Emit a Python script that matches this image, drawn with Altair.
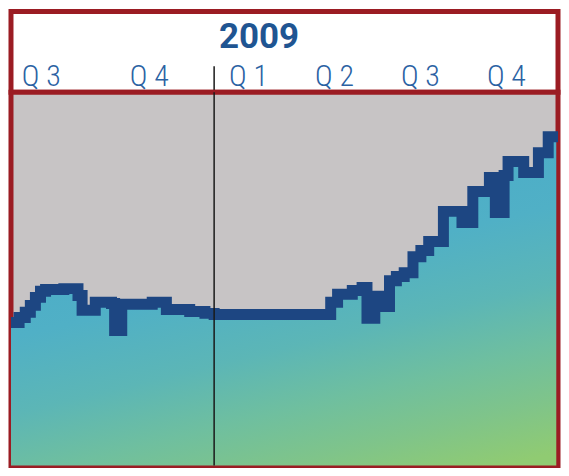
import altair as alt
import pandas as pd

# ---- data ----
year_label = ["2009"]
quarter_labels = ["Q 3", "Q 4", "Q 1", "Q 2", "Q 3", "Q 4"]
quarter_pos = [0.4, 1.4, 2.4, 3.4, 4.4, 5.4]     # position in quarter units (0 = start of Q3 2008)
year_boundary = [2.0]                              # start of 2009

step_x = [0.12, 0.195, 0.252, 0.299, 0.346, 0.393, 0.44, 0.609, 0.74, 0.778, 0.90, 1.05,
          1.079, 1.145, 1.427, 1.558, 1.774, 1.915, 2.0, 3.322, 3.356, 3.436, 3.607, 3.721,
          3.778, 3.869, 3.960, 4.040, 4.120, 4.211, 4.313, 4.405, 4.496, 4.667, 4.883,
          5.009, 5.202, 5.271, 5.373, 5.419, 5.601, 5.772, 5.886, 5.98]
step_v = [40.0, 41.3, 42.7, 44.5, 46.6, 48.2, 48.7, 48.9, 47.1, 43.2, 45.3, 45.0,
          37.9, 44.8, 45.3, 43.4, 42.9, 42.4, 42.1, 42.1, 45.3, 47.4, 48.4, 49.2,
          41.1, 46.9, 44.2, 51.0, 52.1, 53.1, 57.3, 58.9, 61.3, 69.2, 66.3,
          74.4, 78.1, 68.9, 78.6, 82.3, 79.4, 84.6, 88.8, 88.8]

W = 548
H_HEAD = 81
H_MAIN = 374
RED = "#9b1c23"
NAVY = "#1d4682"

series = pd.DataFrame({"x": step_x, "v": step_v})
qdf = pd.DataFrame({"x": quarter_pos, "label": quarter_labels})
ydf = pd.DataFrame({"label": year_label})
bdf = pd.DataFrame({"x": year_boundary})

xscale = alt.Scale(domain=[0.12, 2, 6], range=[0, 203.5, W])
yscale = alt.Scale(domain=[2.4, 100.5], zero=False)

# ---- header panel ----
year_text = alt.Chart(ydf).mark_text(
    font="Roboto", fontWeight="bold", fontSize=35, color="#1f5592",
    align="center", baseline="alphabetic"
).encode(x=alt.value(248.5), y=alt.value(37), text="label:N")

q_text = alt.Chart(qdf).mark_text(
    font="Liberation Sans Narrow, Roboto Condensed, Roboto", fontWeight=300, fontSize=30,
    color="#2b62a3", align="center", baseline="alphabetic"
).encode(x=alt.X("x:Q", scale=xscale, axis=None), y=alt.value(74.5), text="label:N")

head_rule = alt.Chart(bdf).mark_rule(color="#1a1a1a", strokeWidth=1.5).encode(
    x=alt.X("x:Q", scale=xscale, axis=None), y=alt.value(55), y2=alt.value(H_HEAD)
)

header = alt.layer(year_text, q_text, head_rule).properties(
    width=W, height=H_HEAD,
    view=alt.ViewBackground(fill="white", stroke=RED, strokeWidth=5),
)

# ---- main panel ----
grad = alt.Gradient(
    gradient="linear",
    stops=[
        alt.GradientStop(color="#45a8cc", offset=0),
        alt.GradientStop(color="#50b0c6", offset=0.45),
        alt.GradientStop(color="#5cb6b6", offset=0.62),
        alt.GradientStop(color="#6fbf9f", offset=0.76),
        alt.GradientStop(color="#7fc48a", offset=0.88),
        alt.GradientStop(color="#90cb72", offset=1),
    ],
    x1=0, y1=0, x2=0.45, y2=1.15,
)

area = alt.Chart(series).mark_area(interpolate="step-after", color=grad, clip=True).encode(
    x=alt.X("x:Q", scale=xscale, axis=None),
    y=alt.Y("v:Q", scale=yscale, axis=None),
    y2=alt.datum(0),
)
line = alt.Chart(series).mark_line(
    interpolate="step-after", color=NAVY, strokeWidth=11, strokeJoin="miter",
    strokeCap="square", clip=True
).encode(
    x=alt.X("x:Q", scale=xscale, axis=None),
    y=alt.Y("v:Q", scale=yscale, axis=None),
)
main_rule = alt.Chart(bdf).mark_rule(color="#1a1a1a", strokeWidth=1.5).encode(
    x=alt.X("x:Q", scale=xscale, axis=None)
)

main = alt.layer(area, line, main_rule).properties(
    width=W, height=H_MAIN,
    view=alt.ViewBackground(fill="#c7c4c5", stroke=RED, strokeWidth=5),
)

chart = alt.vconcat(header, main, spacing=0, bounds="flush").properties(
    padding=0,
    background="white",
).configure_view(strokeWidth=5)

chart.save("out.html", embed_options={"renderer": "svg", "actions": False})
